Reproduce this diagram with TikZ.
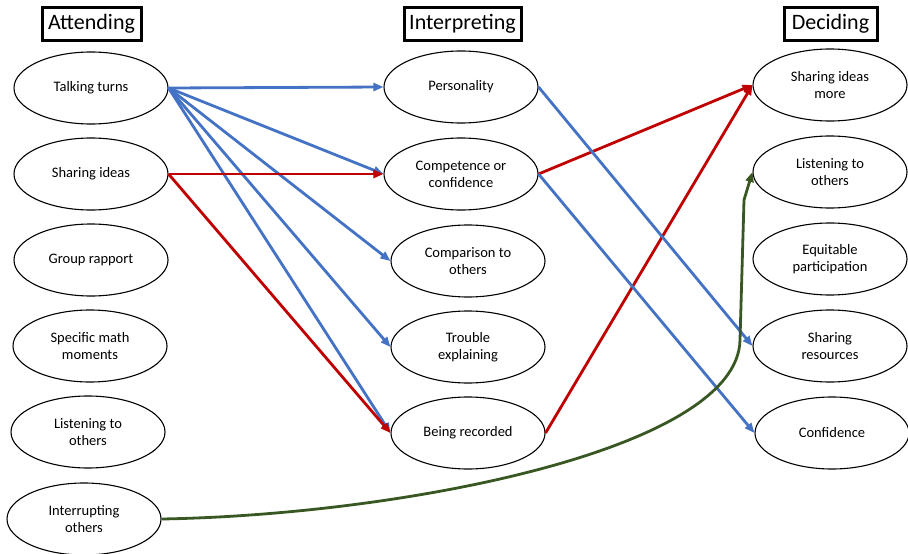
\documentclass[tikz,border=0pt]{standalone}
\usepackage{fontspec}
\setmainfont{Carlito}
\usetikzlibrary{shapes.geometric,arrows.meta}
\definecolor{cblue}{RGB}{68,114,196}
\definecolor{cred}{RGB}{192,0,0}
\definecolor{cgreen}{RGB}{56,87,35}
\begin{document}
\begin{tikzpicture}[x=1pt,y=-1pt,
  oval/.style={draw,ellipse,line width=1.1pt,minimum width=154pt,minimum height=72pt,inner sep=0pt,align=center,font=\fontsize{14.5}{17}\selectfont},
  head/.style={draw,line width=3pt,inner sep=0pt,minimum height=33pt,font=\fontsize{22}{24}\selectfont},
  conn/.style={line width=2.8pt,-{Triangle[length=10pt,width=8pt]}},
  bl/.style={conn,cblue},
  rd/.style={conn,cred},
  gr/.style={conn,cgreen}]
\useasboundingbox (0,0) rectangle (908,554);
% headers
\node[head,minimum width=99pt] (hA) at (91.5,23.5) {Attending};
\node[head,minimum width=117pt] (hI) at (462.5,23.5) {Interpreting};
\node[head,minimum width=93pt] (hD) at (830.5,23.5) {Deciding};
% left column
\node[oval] (tt) at (91,88) {Talking turns};
\node[oval] (si) at (91,174) {Sharing ideas};
\node[oval] (gr) at (91,260) {Group rapport};
\node[oval] (sm) at (90,346) {Specific math\\moments};
\node[oval] (lo) at (88,432) {Listening to\\others};
\node[oval] (io) at (84,519) {Interrupting\\others};
% middle column
\node[oval] (pe) at (461,87) {Personality};
\node[oval] (cc) at (461,174) {Competence or\\confidence};
\node[oval] (co) at (468,261) {Comparison to\\others};
\node[oval] (te) at (468,347) {Trouble\\explaining};
\node[oval] (br) at (468,433) {Being recorded};
% right column
\node[oval] (sim) at (830,85) {Sharing ideas\\more};
\node[oval] (lto) at (830,172) {Listening to\\others};
\node[oval] (ep) at (830,259) {Equitable\\participation};
\node[oval] (sr) at (830,346) {Sharing\\resources};
\node[oval] (cf) at (832,433) {Confidence};
% connectors
\draw[bl] (tt.east) -- (pe.west);
\draw[bl] (tt.east) -- (cc.west);
\draw[bl] (tt.east) -- (co.west);
\draw[bl] (tt.east) -- (te.west);
\draw[bl] (tt.east) -- (br.west);
\draw[rd] (si.east) -- (cc.west);
\draw[rd] (si.east) -- (br.west);
\draw[rd] (cc.east) -- (sim.west);
\draw[rd] (br.east) -- (sim.west);
\draw[bl] (pe.east) -- (sr.west);
\draw[bl] (cc.east) -- (cf.west);
\coordinate (g1) at (740,340);
\coordinate (g2) at (744,200);
\draw[gr] (io.east) .. controls (400,515) and (738,450) .. (g1) -- (g2) -- (lto.west);
\end{tikzpicture}
\end{document}
